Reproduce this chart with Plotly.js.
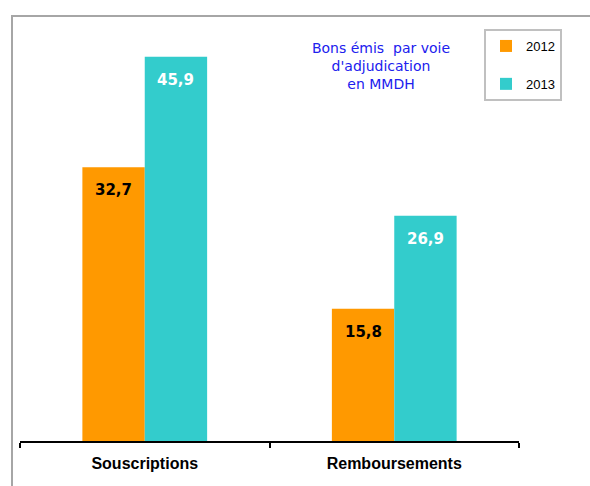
<!DOCTYPE html>
<html>
<head>
<meta charset="utf-8">
<script src="https://cdn.plot.ly/plotly-3.0.1.min.js"></script>
<style>html,body{margin:0;padding:0;background:#fff;}#chart{width:590px;height:486px;}</style>
</head>
<body>
<div id="chart"></div>
<script>
const categories = ["Souscriptions", "Remboursements"];
const seriesNames = ["2012", "2013"];
const values2012 = [32.7, 15.8];
const values2013 = [45.9, 26.9];
const labelColors = ["#000000", "#ffffff"];
const barColors = ["#FF9900", "#33CCCC"];
const titleLines = ["Bons émis  par voie", "d'adjudication", "en MMDH"];

const fmt = v => v.toFixed(1).replace(".", ",");
const allValues = [values2012, values2013];

const traces = allValues.map((vals, s) => ({
  type: "bar",
  name: seriesNames[s],
  x: categories,
  y: vals,
  marker: {color: barColors[s]},
  legendgroup: "g" + s,
  hoverinfo: "none"
}));

const annotations = [];
allValues.forEach((vals, s) => {
  vals.forEach((v, i) => {
    annotations.push({
      xref: "x", yref: "y",
      x: i + (s === 0 ? -0.125 : 0.125),
      y: v,
      yshift: -23,
      text: "<b>" + fmt(v) + "</b>",
      showarrow: false,
      font: {family: "DejaVu Sans", size: 15, color: labelColors[s]},
      xanchor: "center", yanchor: "middle"
    });
  });
});

const layout = {
  width: 590, height: 486,
  margin: {l: 20, r: 71, t: 20, b: 45},
  paper_bgcolor: "#ffffff",
  plot_bgcolor: "#ffffff",
  barmode: "group",
  bargap: 0.5,
  bargroupgap: 0,
  showlegend: true,
  title: {
    text: titleLines.join("<br>"),
    font: {family: "DejaVu Sans", size: 14, color: "#2020EE"},
    x: 381 / 590, xanchor: "center", xref: "container",
    y: 1 - 53 / 486, yanchor: "top", yref: "container"
  },
  legend: {
    x: (484 - 20) / 499, xanchor: "left",
    y: 1 + (20 - 29) / 421, yanchor: "top",
    bgcolor: "#ffffff",
    bordercolor: "#C0C0C0",
    borderwidth: 2,
    font: {family: "Liberation Sans", size: 13, color: "#000000"},
    tracegroupgap: 18,
    itemwidth: 30
  },
  xaxis: {
    type: "category",
    showline: true, linecolor: "#000000", linewidth: 2,
    ticks: "outside", tickson: "boundaries", ticklen: 5, tickwidth: 2, tickcolor: "#000000",
    tickfont: {family: "Liberation Sans", size: 16, color: "#000000", weight: "bold"},
    ticklabelstandoff: 7,
    showgrid: false, zeroline: false, fixedrange: true
  },
  yaxis: {
    range: [0, 50.3],
    visible: false, showgrid: false, zeroline: false, fixedrange: true
  },
  annotations: annotations,
  shapes: [{
    type: "rect", xref: "paper", yref: "paper",
    x0: (12 - 20) / 499, x1: (600 - 20) / 499,
    y0: (441 - 500) / 421, y1: 1 + (20 - 16) / 421,
    line: {color: "#A6A6A6", width: 2},
    fillcolor: "rgba(0,0,0,0)",
    layer: "below"
  }]
};

Plotly.newPlot("chart", traces, layout, {displayModeBar: false, staticPlot: true});
</script>
</body>
</html>
